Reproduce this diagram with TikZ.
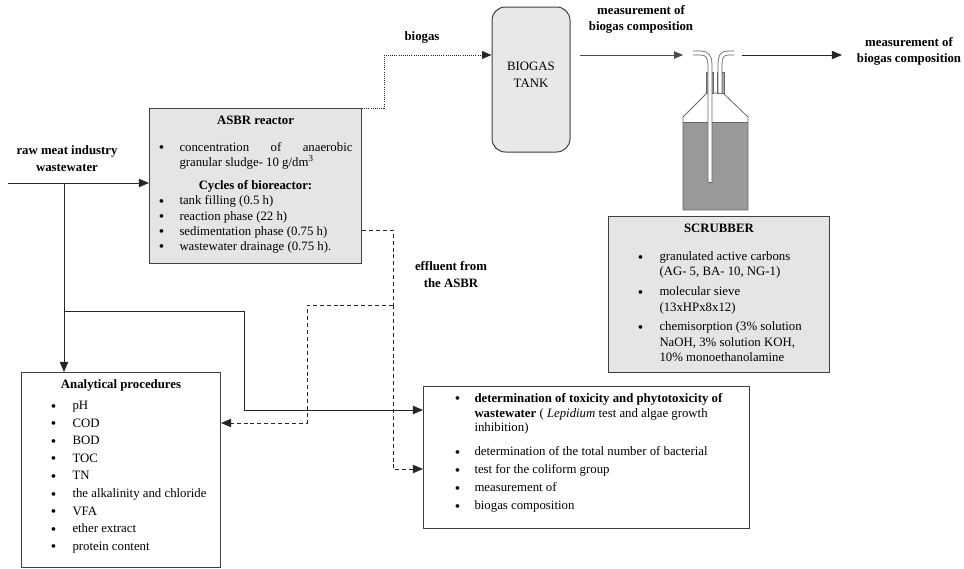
\documentclass[tikz,border=0pt]{standalone}
\usepackage{fontspec}
\setmainfont{Liberation Serif}
\usetikzlibrary{arrows}

\newdimen\px \px=0.75pt
\newlength\dotgap
\newcommand\basefont{\fontsize{9.6}{12.5}\selectfont}
\newenvironment{dotlist}[3]{%
  \begin{list}{\raisebox{-0.25ex}{\scalebox{1.2}{\textbullet}}}{%
    \setlength\leftmargin{#1}\setlength\labelsep{#2}%
    \setlength\labelwidth{1em}\setlength\rightmargin{#3}%
    \setlength\itemsep{\dotgap}\setlength\parsep{0pt}%
    \setlength\topsep{0pt}\setlength\partopsep{0pt}\setlength\itemindent{0pt}}}%
  {\end{list}}
\hbadness=10000 \hfuzz=6pt

\tikzset{
  box/.style={draw=black!75, line width=0.75pt, inner sep=0pt, anchor=north west},
  shaded/.style={box, fill=gray!20},
  lbl/.style={font=\basefont\bfseries, align=center, inner sep=1pt},
  flow/.style={line width=0.75pt, draw=black!85},
  eff/.style={flow, dash pattern=on 3pt off 2.2pt},
  gas/.style={flow, line width=0.6pt, densely dotted},
  glass/.style={draw=black!60, line width=0.6pt}
}

\begin{document}
\begin{tikzpicture}[x=0.75pt, y=-0.75pt, >=triangle 45, font=\basefont]
	\useasboundingbox (0,0) rectangle (964,568);

	% reactor
	\node[shaded] (asbr) at (149,108) {\parbox[c][155\px][t]{212\px}{%
		\fontsize{9.6}{11.4}\selectfont\parskip=0pt
		\vspace*{4pt}
		{\centering\strut\textbf{ASBR reactor}\par}
		\vspace{8.85pt}
		\setlength\dotgap{0pt}
		\begin{dotlist}{22.5pt}{11.5pt}{6.75pt}
		\item concentration \hfill of \hfill anaerobic\\ granular sludge- 10 g/dm\textsuperscript{3}
		\end{dotlist}
		\vspace{5.85pt}
		{\centering\textbf{Cycles of bioreactor:}\par}
		\begin{dotlist}{22.5pt}{11.5pt}{6.75pt}
		\item tank filling (0.5 h)
		\item reaction phase (22 h)
		\item sedimentation phase (0.75 h)
		\item wastewater drainage (0.75 h).
		\end{dotlist}}};

	% analyses
	\node[box] (anal) at (21,372) {\parbox[c][195\px][t]{199\px}{%
		\fontsize{9.6}{11.6}\selectfont\parskip=0pt
		\vspace*{3.9pt}
		{\centering\strut\textbf{Analytical procedures}\par}
		\vspace{4.15pt}
		\setlength\dotgap{1.6pt}
		\begin{dotlist}{38.25pt}{12.2pt}{4pt}
		\item pH
		\item COD
		\item BOD
		\item TOC
		\item TN
		\item the alkalinity and chloride
		\item VFA
		\item ether extract
		\item protein content
		\end{dotlist}}};

	\node[box] (tests) at (423,386) {\parbox[c][142\px][t]{330\px}{%
		\fontsize{9.6}{11}\selectfont\parskip=0pt
		\vspace*{4.3pt}
		\setlength\dotgap{2.5pt}
		\begin{dotlist}{38.25pt}{10.7pt}{3pt}
		\item \strut\textbf{determination of toxicity and phytotoxicity of\\ wastewater} ( \textit{Lepidium} test and algae growth\\ inhibition)
		\par\vspace{4.5pt}
		\item determination of the total number of bacterial
		\item test for the coliform group
		\item measurement of
		\item biogas composition
		\end{dotlist}}};

	\node[shaded] (scrub) at (608,216) {\parbox[c][156\px][t]{221\px}{%
		\fontsize{9.6}{11.6}\selectfont\parskip=0pt
		\vspace*{3.9pt}
		{\centering\strut\textbf{SCRUBBER}\par}
		\vspace{9.4pt}
		\setlength\dotgap{3.2pt}
		\begin{dotlist}{38.25pt}{12.2pt}{4pt}
		\item granulated active carbons\\ (AG- 5, BA- 10, NG-1)
		\item molecular sieve\\ (13xHPx8x12)
		\item chemisorption (3\% solution\\ NaOH, 3\% solution KOH,\\ 10\% monoethanolamine
		\end{dotlist}}};

	\node[draw=black!75, line width=0.75pt, fill=gray!18, rounded corners=10pt,
		minimum width=58.5pt, minimum height=108.75pt,
		label={[yshift=3.75pt, align=center, font=\basefont]center:BIOGAS\\TANK}]
		(tank) at (531,79.5) {};

	% labels
	\node[lbl] (raw) at (67,158.5) {raw meat industry\\wastewater};
	\node[lbl] (gaslbl) at (422,37) {biogas};
	\node[lbl] (meas1) at (641,19.5) {measurement of\\biogas composition};
	\node[lbl] (meas2) at (909,51.5) {measurement of\\biogas composition};
	\node[lbl] (efflbl) at (451,274.5) {effluent from\\the ASBR};

	% scrubber bottle
	\fill[black!40] (683,122) rectangle (748,210);
	\draw[glass] (683,210) -- (683,117) -- (707,93) -- (723,93) -- (748,117) -- (748,210) -- cycle;
	\draw[glass] (683,122) -- (748,122);
	\filldraw[glass, fill=black!35] (706,72) rectangle (713,93);
	\filldraw[glass, fill=black!35] (717,72) rectangle (724,93);
	\draw[glass, double=white, double distance=2.4pt] (693,53) -- (701,53)
		.. controls (707,53) and (710,57) .. (710,64) -- (710,182);
	\draw[glass] (707.6,182) -- (712.4,182);
	\draw[glass, double=white, double distance=2.4pt] (734,53) -- (728,53)
		.. controls (722,53) and (720,57) .. (720,64) -- (720,93);

	% connectors
	\coordinate (rawin) at (8,183);
	\coordinate (split) at (64,183);
	\coordinate (branch) at (64,311);
	\coordinate (bend) at (244,410);
	\coordinate (inlet) at (683,55);
	\coordinate (outlet) at (742,55);
	\coordinate (eo) at (0,230);
	\coordinate (effj) at (393,305);
	\coordinate (ea) at (307,423);
	\coordinate (eb) at (0,469);

	\draw[flow,->] (rawin) -- (rawin -| asbr.west);
	\draw[flow,->] (split) -- (split |- anal.north);
	\draw[flow,->] (branch) -| (bend) -- (tests.west |- bend);

	\draw[gas,->] (asbr.north east) -- ++(22,0) |- (tank.west |- inlet);
	\draw[line width=0.5pt, draw=black!70, ->, shorten <=7pt] (tank.east |- inlet) -- (inlet);
	\draw[flow,->, shorten >=10pt] (outlet) -- (meas2.west |- outlet);

	\draw[eff] (asbr.east |- eo) -| (effj);
	\draw[eff,->] (effj) |- (tests.west |- eb);
	\draw[eff,->] (effj) -| (ea) -- (anal.east |- ea);

\end{tikzpicture}
\end{document}
